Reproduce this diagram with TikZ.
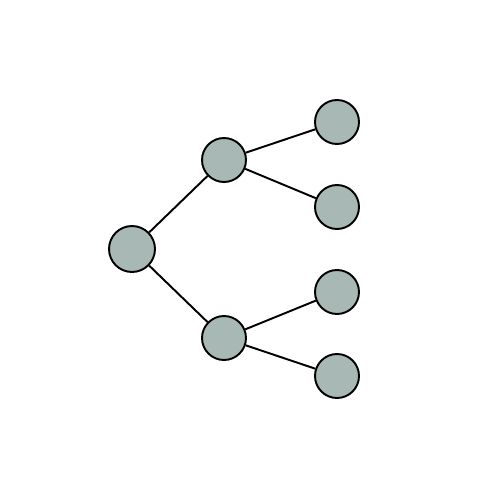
\documentclass[tikz,border=0pt]{standalone}
\definecolor{nodegray}{HTML}{A8B8B5}
\begin{document}
\begin{tikzpicture}[x=0.02cm, y=-0.02cm]
      \tikzstyle{vertex}=[draw, line width=1.1pt, fill=nodegray, shape=circle, minimum size=0.88cm, inner sep=0pt]
      \useasboundingbox (0,0) rectangle (500,500);
      % draw nodes

      \node [vertex, minimum size=0.92cm] (root) at (132,249) {};

      \foreach \y [count=\i] in {160,338}
      \node [vertex] (mid-\i) at (224,\y) {};

      \foreach \y [count=\i] in {122,207,292,376}
      \node [vertex] (leaf-\i) at (337,\y) {};

      % draw lines

      \foreach \i in {1,2}
      \draw [line width=1.1pt] (root) -- (mid-\i);

      \foreach \i/\j in {1/1,1/2,2/3,2/4}
      \draw [line width=1.1pt] (mid-\i) -- (leaf-\j);

\end{tikzpicture}
\end{document}
